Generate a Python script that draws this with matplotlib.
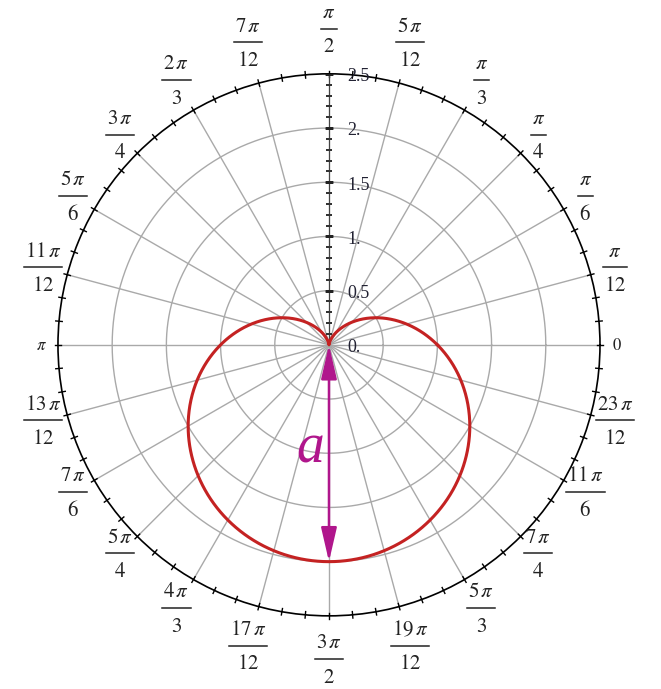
import numpy as np
import matplotlib.pyplot as plt
from matplotlib.lines import Line2D

plt.rcParams['mathtext.fontset'] = 'stix'

# grid / labels  (numerator, denominator); None = plain label
spoke_deg = np.arange(0, 360, 15)
spoke_labels = [('0', None), (r'\pi', '12'), (r'\pi', '6'), (r'\pi', '4'), (r'\pi', '3'),
                (r'5\,\pi', '12'), (r'\pi', '2'), (r'7\,\pi', '12'), (r'2\,\pi', '3'),
                (r'3\,\pi', '4'), (r'5\,\pi', '6'), (r'11\,\pi', '12'), (r'\pi', None),
                (r'13\,\pi', '12'), (r'7\,\pi', '6'), (r'5\,\pi', '4'), (r'4\,\pi', '3'),
                (r'17\,\pi', '12'), (r'3\,\pi', '2'), (r'19\,\pi', '12'), (r'5\,\pi', '3'),
                (r'7\,\pi', '4'), (r'11\,\pi', '6'), (r'23\,\pi', '12')]
ring_r = [0.5, 1.0, 1.5, 2.0]
r_ticks = [0, 0.5, 1.0, 1.5, 2.0, 2.5]
r_tick_labels = ['0.', '0.5', '1.', '1.5', '2.', '2.5']
r_max = 2.5

# cardioid r = a/2 (1 - sin t), a = length from pole to the bottom
a = 2.0
t = np.linspace(0, 2 * np.pi, 1441)
r = a / 2 * (1 - np.sin(t))

fig = plt.figure(figsize=(6.61, 6.89), dpi=100)
ax = fig.add_axes([0.0877, 0.106, 0.820, 0.787], projection='polar')
ax.set_ylim(0, r_max)
ax.grid(False)
ax.set_xticks([])
ax.set_yticks([])
ax.spines['polar'].set_color('black')
ax.spines['polar'].set_linewidth(1.2)

grey = '#a9a9a9'
full = np.linspace(0, 2 * np.pi, 721)
for rr in ring_r:
    ax.plot(full, np.full_like(full, rr), color=grey, lw=1.0, zorder=1)
for d in spoke_deg:
    th = np.deg2rad(d)
    ax.plot([th, th], [0, r_max], color=grey, lw=1.0, zorder=1)

# ticks on the outer circle every 5 degrees
for d in np.arange(0, 360, 5):
    th = np.deg2rad(d)
    ax.plot([th, th], [r_max - 0.03, r_max + 0.03], color='black', lw=1.0,
            clip_on=False, zorder=3)

# vertical axis with its ticks
ax.plot([np.pi / 2, np.pi / 2], [0, r_max], color='#444444', lw=0.8, zorder=3)
minor = np.arange(0.1, r_max, 0.1)
ax.plot(np.full_like(minor, np.pi / 2), minor, ls='none', marker='_', ms=4,
        mew=1.2, color='#333333', zorder=3)
ax.plot(np.full(5, np.pi / 2), [0.5, 1.0, 1.5, 2.0, 2.5], ls='none', marker='_',
        ms=6, mew=1.8, color='#222222', zorder=3)

for rv, lab in zip(r_ticks, r_tick_labels):
    ax.annotate(lab, xy=(np.pi / 2, rv), xytext=(13, -2), textcoords='offset points',
                ha='left', va='center', fontsize=13, family='Liberation Serif',
                color='#222233', annotation_clip=False, zorder=4)

# angle labels, stacked fractions
px_per_unit = 271 / r_max
fracs = []
for d, (num, den) in zip(spoke_deg, spoke_labels):
    th = np.deg2rad(d)
    s = abs(np.sin(th))
    if den is None:
        ax.text(th, r_max + 17 / px_per_unit, '$' + num + '$', ha='center', va='center',
                fontsize=12, color='#222222', clip_on=False)
        continue
    rc = r_max + (25 + 19 * max(0.0, (s - 0.75) / 0.25)) / px_per_unit
    tn = ax.annotate('$' + num + '$', xy=(th, rc), xytext=(0, 12.5), textcoords='offset points',
                     ha='center', va='center', fontsize=15, color='#222222',
                     annotation_clip=False)
    td = ax.annotate('$' + den + '$', xy=(th, rc), xytext=(0, -12), textcoords='offset points',
                     ha='center', va='center', fontsize=15, color='#222222',
                     annotation_clip=False)
    fracs.append((th, rc, tn, td))

fig.canvas.draw()
rend = fig.canvas.get_renderer()
to_fig = fig.transFigure.inverted()
for th, rc, tn, td in fracs:
    w = max(tn.get_window_extent(rend).width, td.get_window_extent(rend).width) + 2
    cx, cy = ax.transData.transform((th, rc))
    (x0, y0), (x1, y1) = to_fig.transform([(cx - w / 2, cy + 1), (cx + w / 2, cy + 1)])
    fig.add_artist(Line2D([x0, x1], [y0, y1], color='#222222', lw=1.1))

ax.plot(t, r, color='#c42222', lw=2.2, zorder=5)

# double arrow for a
mag = '#b0168c'
ax.annotate('', xy=(3 * np.pi / 2, a), xytext=(3 * np.pi / 2, 0.0),
            arrowprops=dict(arrowstyle='<|-|>,head_length=1.3,head_width=0.3',
                            color=mag, lw=1.8, shrinkA=0, shrinkB=0,
                            mutation_scale=16), zorder=6)
ax.text(3 * np.pi / 2 - 0.18, 0.97, 'a', color=mag, fontsize=40, style='italic',
        family='Liberation Serif', ha='center', va='center', zorder=6)

fig.savefig('out.png', dpi=100, facecolor='white')
